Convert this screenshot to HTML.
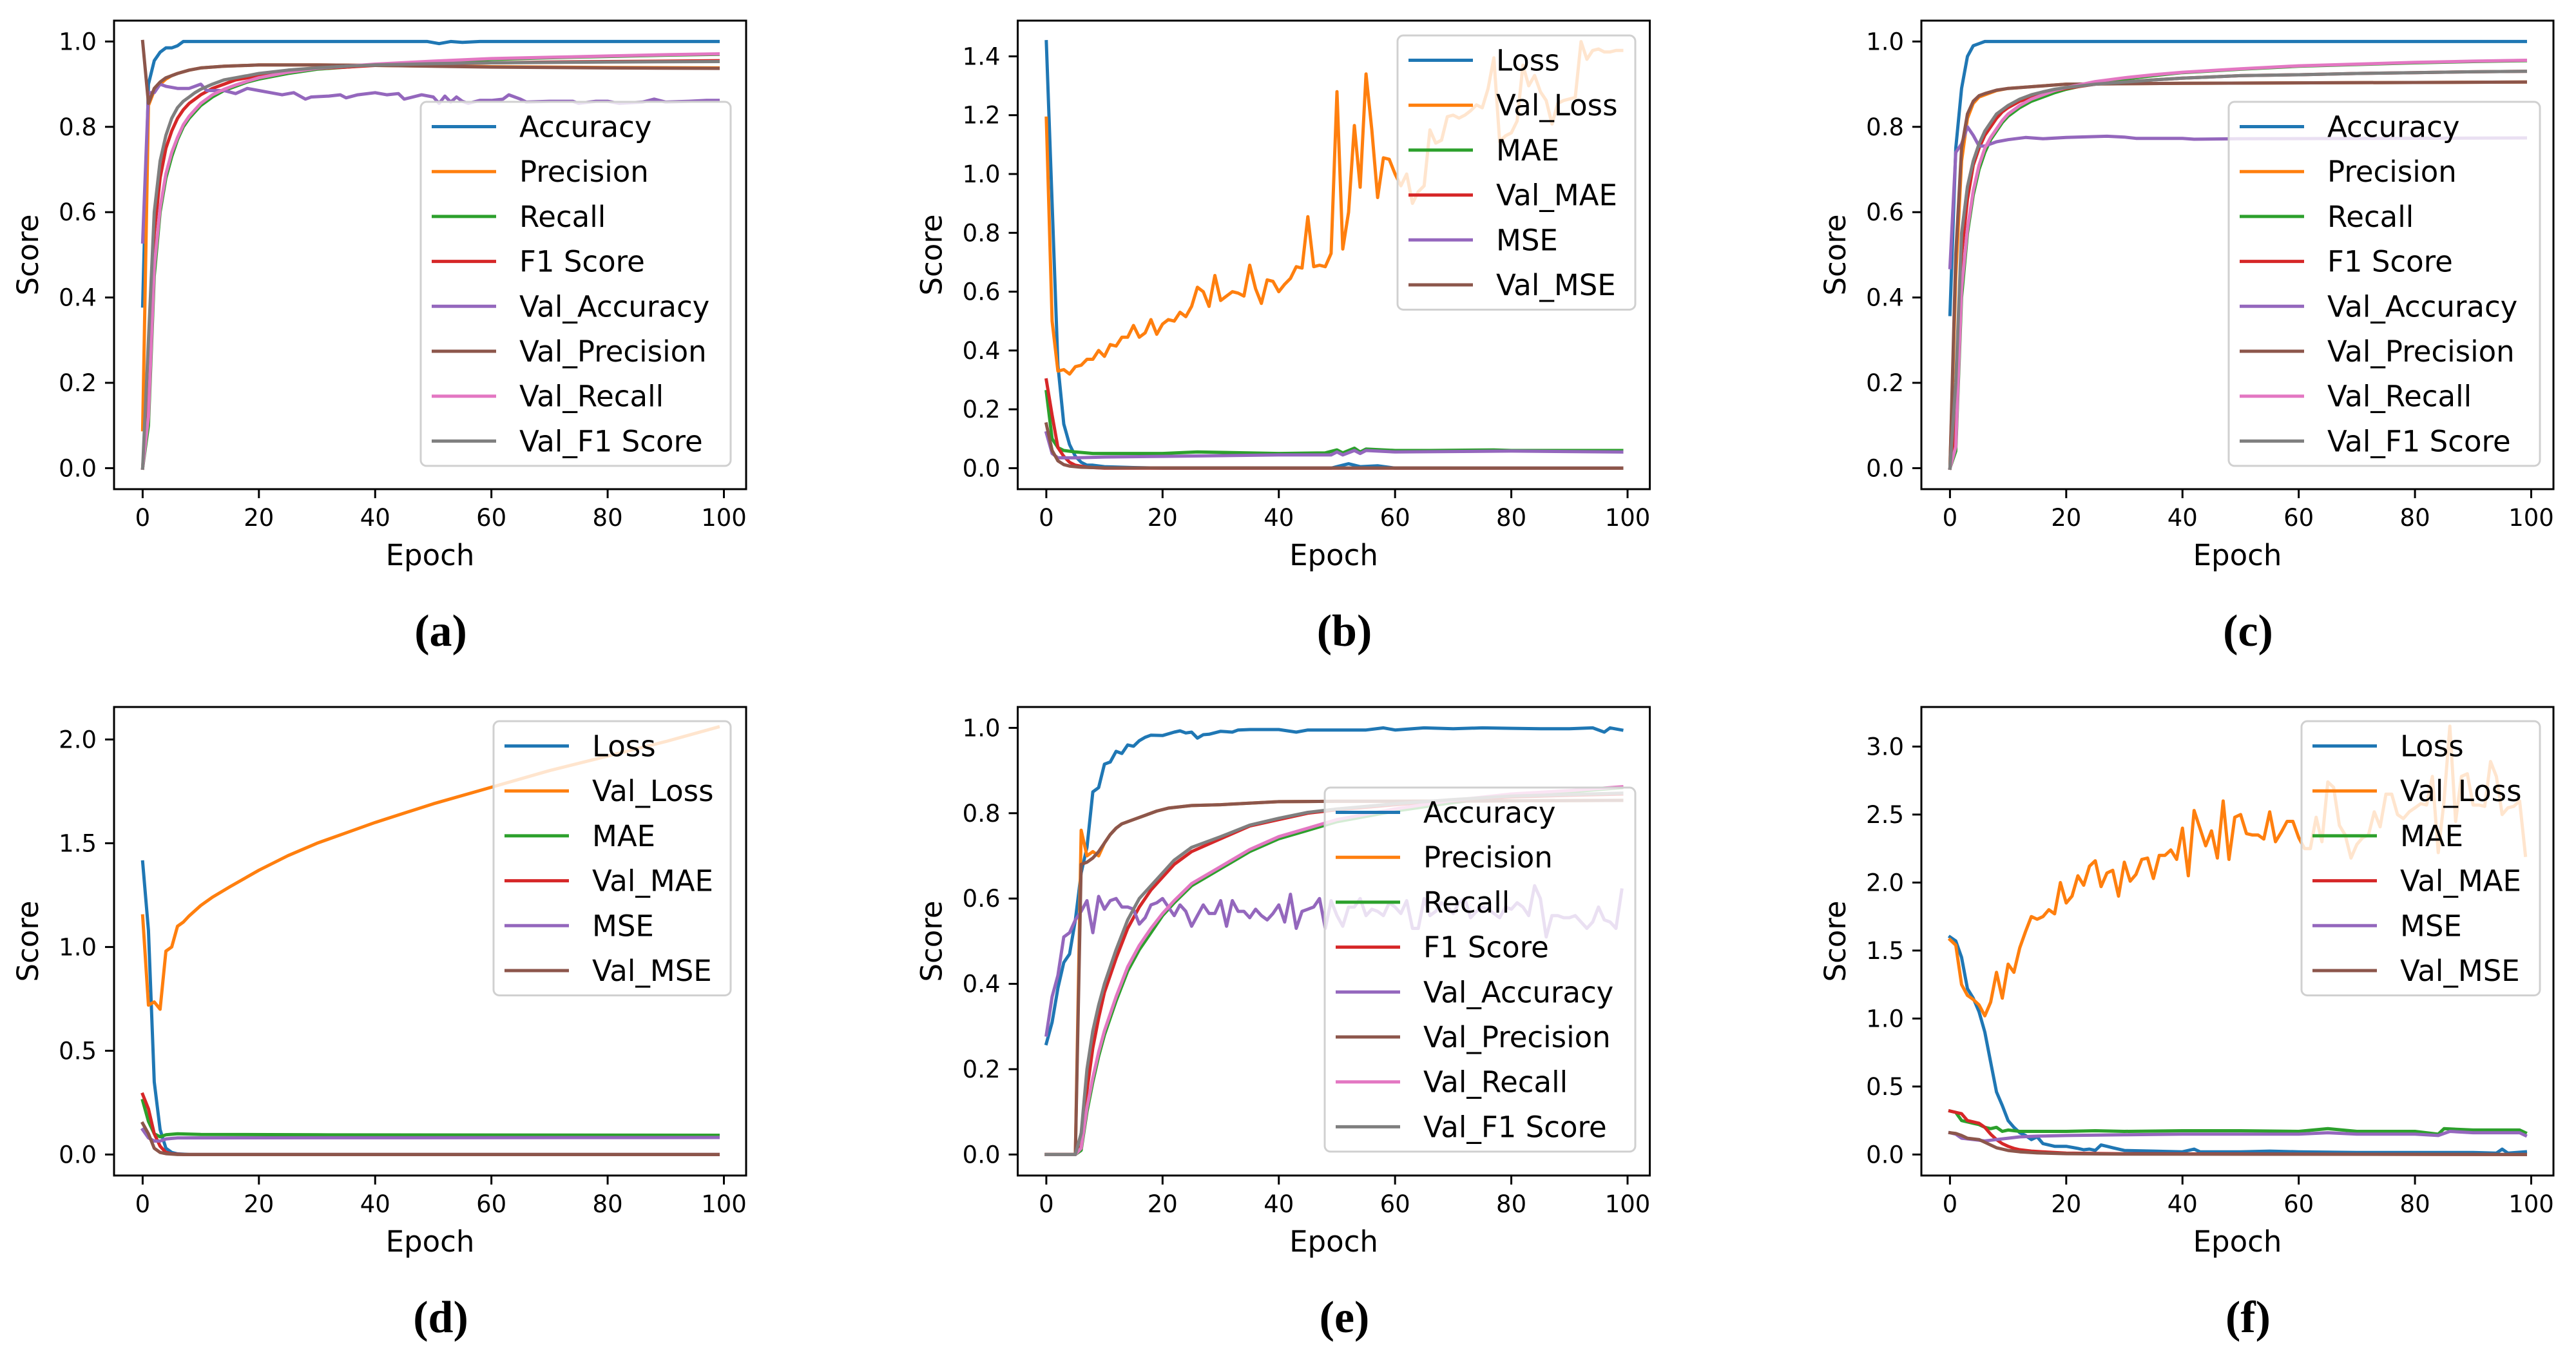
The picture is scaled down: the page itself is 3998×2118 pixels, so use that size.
<!DOCTYPE html>
<html><head><meta charset="utf-8"><style>
html,body{margin:0;padding:0;background:#fff;}
svg{display:block;}
text{font-family:"DejaVu Sans","Liberation Sans",sans-serif;fill:#000;}
.cap{font-family:"Liberation Serif","DejaVu Serif",serif;font-weight:bold;}
</style></head><body>
<svg id="fig" width="3998" height="2118" viewBox="0 0 3998 2118" xmlns="http://www.w3.org/2000/svg"></svg>
<script>
// ---------- data (epoch, value) ----------
const xTicks = [0,20,40,60,80,100];
const tickScore = [0,0.2,0.4,0.6,0.8,1.0];
const tickB = [0,0.2,0.4,0.6,0.8,1.0,1.2,1.4];
const tickD = [0,0.5,1.0,1.5,2.0];
const tickF = [0,0.5,1.0,1.5,2.0,2.5,3.0];
const namesMetric = ["Accuracy","Precision","Recall","F1 Score","Val_Accuracy","Val_Precision","Val_Recall","Val_F1 Score"];
const namesLoss = ["Loss","Val_Loss","MAE","Val_MAE","MSE","Val_MSE"];

// panel a
const aAcc = [[0,0.38],[1,0.9],[2,0.955],[3,0.975],[4,0.985],[5,0.985],[6,0.99],[7,1.0],[20,1.0],[49,1.0],[51,0.995],[53,1.0],[55,0.998],[58,1.0],[99,1.0]];
const aPrec = [[0,0.09],[1,0.85],[2,0.885],[3,0.9],[4,0.912],[5,0.92],[6,0.925],[8,0.933],[10,0.938],[14,0.942],[20,0.945],[30,0.945],[40,0.944],[60,0.941],[80,0.939],[99,0.938]];
const aRec = [[0,0],[1,0.1],[2,0.45],[3,0.6],[4,0.68],[5,0.73],[6,0.77],[7,0.8],[8,0.82],[9,0.835],[10,0.85],[12,0.87],[14,0.885],[16,0.895],[18,0.905],[20,0.912],[25,0.925],[30,0.935],[35,0.94],[40,0.945],[50,0.952],[60,0.958],[70,0.962],[80,0.965],[90,0.968],[99,0.97]];
const aF1 = [[0,0],[1,0.2],[2,0.55],[3,0.68],[4,0.75],[5,0.79],[6,0.82],[7,0.84],[8,0.855],[9,0.865],[10,0.875],[12,0.89],[14,0.9],[16,0.91],[18,0.915],[20,0.92],[25,0.93],[30,0.937],[35,0.94],[40,0.944],[50,0.947],[60,0.95],[70,0.952],[80,0.953],[90,0.954],[99,0.955]];
const aVAcc = [[0,0.53],[1,0.88],[2,0.88],[3,0.9],[4,0.895],[6,0.89],[8,0.89],[10,0.9],[11,0.885],[14,0.885],[16,0.878],[18,0.89],[20,0.885],[22,0.88],[24,0.875],[26,0.88],[28,0.865],[29,0.87],[32,0.872],[34,0.875],[35,0.868],[37,0.875],[40,0.88],[42,0.875],[44,0.878],[45,0.865],[48,0.875],[50,0.87],[51,0.855],[52,0.872],[53,0.858],[54,0.87],[55,0.86],[56,0.855],[58,0.862],[60,0.862],[62,0.865],[63,0.875],[65,0.865],[66,0.858],[70,0.86],[74,0.86],[75,0.855],[78,0.86],[80,0.86],[82,0.855],[86,0.858],[88,0.865],[90,0.858],[94,0.86],[97,0.862],[99,0.862]];
const aVPrec = [[0,1.0],[1,0.855],[2,0.89],[3,0.905],[4,0.915],[5,0.92],[6,0.925],[8,0.933],[10,0.938],[14,0.942],[20,0.945],[30,0.945],[40,0.944],[60,0.94],[80,0.938],[99,0.937]];
const aVRec = [[0,0],[1,0.12],[2,0.47],[3,0.61],[4,0.69],[5,0.74],[6,0.775],[7,0.805],[8,0.825],[9,0.84],[10,0.855],[12,0.875],[14,0.888],[16,0.898],[18,0.907],[20,0.915],[25,0.928],[30,0.937],[35,0.942],[40,0.947],[50,0.954],[60,0.96],[70,0.963],[80,0.966],[90,0.969],[99,0.971]];
const aVF1 = [[0,0],[1,0.3],[2,0.6],[3,0.72],[4,0.78],[5,0.82],[6,0.845],[7,0.86],[8,0.87],[9,0.88],[10,0.888],[12,0.9],[14,0.91],[16,0.915],[18,0.92],[20,0.925],[25,0.933],[30,0.938],[35,0.942],[40,0.945],[50,0.948],[60,0.95],[80,0.952],[99,0.953]];

// panel b
const bLoss = [[0,1.45],[1,0.9],[2,0.35],[3,0.15],[4,0.08],[5,0.04],[6,0.02],[7,0.01],[8,0.01],[10,0.005],[15,0.002],[20,0],[49,0],[50,0.005],[52,0.015],[54,0.005],[57,0.008],[60,0],[99,0]];
const bVLoss = [[0,1.19],[1,0.5],[2,0.33],[3,0.335],[4,0.32],[5,0.345],[6,0.35],[7,0.37],[8,0.37],[9,0.4],[10,0.38],[11,0.42],[12,0.415],[13,0.445],[14,0.445],[15,0.485],[16,0.445],[17,0.46],[18,0.505],[19,0.455],[20,0.49],[21,0.505],[22,0.5],[23,0.53],[24,0.515],[25,0.55],[26,0.615],[27,0.6],[28,0.55],[29,0.655],[30,0.57],[31,0.585],[32,0.6],[33,0.595],[34,0.585],[35,0.69],[36,0.61],[37,0.56],[38,0.64],[39,0.635],[40,0.6],[41,0.625],[42,0.645],[43,0.685],[44,0.68],[45,0.855],[46,0.685],[47,0.69],[48,0.685],[49,0.73],[50,1.28],[51,0.745],[52,0.87],[53,1.165],[54,0.955],[55,1.34],[56,1.15],[57,0.92],[58,1.055],[59,1.05],[60,1.0],[61,0.96],[62,1.0],[63,0.9],[64,0.94],[65,0.96],[66,1.15],[67,1.105],[68,1.115],[69,1.195],[70,1.2],[71,1.19],[72,1.2],[73,1.215],[74,1.235],[75,1.225],[76,1.29],[77,1.395],[78,1.11],[79,1.13],[80,1.14],[81,1.18],[82,1.37],[83,1.3],[84,1.335],[85,1.28],[86,1.25],[87,1.17],[88,1.24],[89,1.25],[90,1.255],[91,1.26],[92,1.45],[93,1.39],[94,1.42],[95,1.425],[96,1.415],[97,1.415],[98,1.42],[99,1.42]];
const bMAE = [[0,0.26],[1,0.1],[2,0.07],[3,0.06],[5,0.055],[8,0.05],[20,0.05],[26,0.055],[40,0.05],[48,0.052],[50,0.062],[51,0.052],[53,0.068],[54,0.055],[55,0.065],[60,0.06],[66,0.06],[77,0.062],[80,0.06],[99,0.06]];
const bVMAE = [[0,0.3],[1,0.18],[2,0.07],[3,0.04],[4,0.02],[5,0.01],[7,0.003],[10,0],[99,0]];
const bMSE = [[0,0.12],[1,0.05],[2,0.035],[5,0.035],[10,0.038],[20,0.04],[40,0.045],[49,0.045],[50,0.055],[51,0.045],[53,0.06],[54,0.05],[55,0.06],[60,0.055],[80,0.058],[99,0.055]];
const bVMSE = [[0,0.15],[1,0.06],[2,0.025],[3,0.012],[4,0.007],[6,0.003],[10,0.001],[99,0]];

// panel c
const cAcc = [[0,0.36],[1,0.75],[2,0.89],[3,0.965],[4,0.99],[5,0.995],[6,1.0],[99,1.0]];
const cPrec = [[0,0],[1,0.45],[2,0.72],[3,0.82],[4,0.855],[5,0.87],[6,0.875],[8,0.885],[10,0.89],[15,0.895],[20,0.9],[40,0.902],[99,0.905]];
const cRec = [[0,0],[1,0.04],[2,0.4],[3,0.55],[4,0.64],[5,0.7],[6,0.74],[7,0.77],[8,0.79],[9,0.81],[10,0.825],[12,0.845],[14,0.86],[16,0.87],[18,0.88],[20,0.888],[25,0.903],[30,0.912],[35,0.92],[40,0.927],[50,0.935],[60,0.942],[70,0.946],[80,0.95],[90,0.953],[99,0.955]];
const cF1 = [[0,0],[1,0.1],[2,0.5],[3,0.63],[4,0.71],[5,0.75],[6,0.78],[7,0.8],[8,0.82],[9,0.835],[10,0.845],[12,0.86],[14,0.87],[16,0.878],[18,0.885],[20,0.89],[25,0.9],[30,0.905],[35,0.91],[40,0.914],[50,0.92],[60,0.922],[70,0.925],[80,0.927],[90,0.929],[99,0.93]];
const cVAcc = [[0,0.47],[1,0.74],[2,0.76],[3,0.8],[4,0.78],[5,0.755],[6,0.755],[7,0.76],[8,0.765],[10,0.77],[13,0.775],[16,0.772],[20,0.775],[27,0.778],[30,0.776],[32,0.773],[40,0.773],[42,0.771],[50,0.772],[99,0.774]];
const cVPrec = [[0,0],[1,0.5],[2,0.75],[3,0.83],[4,0.86],[5,0.873],[6,0.878],[8,0.886],[10,0.89],[15,0.895],[20,0.9],[40,0.902],[99,0.905]];
const cVRec = [[0,0],[1,0.05],[2,0.42],[3,0.56],[4,0.65],[5,0.71],[6,0.75],[7,0.775],[8,0.795],[9,0.815],[10,0.83],[12,0.85],[14,0.865],[16,0.875],[18,0.885],[20,0.892],[25,0.906],[30,0.915],[35,0.922],[40,0.928],[50,0.936],[60,0.943],[70,0.947],[80,0.951],[90,0.954],[99,0.956]];
const cVF1 = [[0,0],[1,0.2],[2,0.55],[3,0.66],[4,0.72],[5,0.76],[6,0.79],[7,0.81],[8,0.83],[9,0.84],[10,0.85],[12,0.865],[14,0.875],[16,0.882],[18,0.888],[20,0.892],[25,0.9],[30,0.905],[35,0.91],[40,0.914],[50,0.92],[60,0.922],[70,0.925],[80,0.927],[90,0.929],[99,0.93]];

// panel d
const dLoss = [[0,1.41],[1,1.08],[2,0.35],[3,0.12],[4,0.03],[5,0.01],[6,0.003],[8,0],[99,0]];
const dVLoss = [[0,1.15],[1,0.72],[2,0.735],[3,0.7],[4,0.98],[5,1.0],[6,1.1],[7,1.12],[8,1.15],[10,1.2],[12,1.24],[15,1.29],[20,1.37],[25,1.44],[30,1.5],[35,1.55],[40,1.6],[50,1.69],[60,1.77],[70,1.85],[80,1.92],[90,1.99],[99,2.06]];
const dMAE = [[0,0.26],[1,0.16],[2,0.1],[3,0.085],[4,0.095],[6,0.1],[10,0.097],[30,0.095],[99,0.093]];
const dVMAE = [[0,0.29],[1,0.22],[2,0.1],[3,0.04],[4,0.01],[5,0.003],[7,0],[99,0]];
const dMSE = [[0,0.12],[1,0.08],[2,0.065],[3,0.065],[4,0.075],[6,0.08],[99,0.082]];
const dVMSE = [[0,0.15],[1,0.1],[2,0.03],[3,0.01],[4,0.004],[6,0],[99,0]];

// panel e
const eAcc = [[0,0.26],[1,0.31],[2,0.39],[3,0.45],[4,0.47],[5,0.55],[6,0.66],[7,0.72],[8,0.85],[9,0.86],[10,0.915],[11,0.92],[12,0.945],[13,0.94],[14,0.96],[15,0.957],[16,0.97],[17,0.978],[18,0.983],[20,0.982],[22,0.99],[23,0.993],[24,0.988],[25,0.99],[26,0.976],[27,0.984],[28,0.985],[30,0.992],[32,0.99],[33,0.995],[35,0.996],[40,0.996],[43,0.99],[45,0.995],[50,0.995],[55,0.995],[58,1.0],[60,0.995],[65,1.0],[70,0.998],[75,1.0],[80,0.999],[85,0.998],[90,0.998],[94,1.0],[96,0.99],[97,1.0],[99,0.995]];
const ePrec = [[0,0],[5,0],[6,0.76],[7,0.7],[8,0.71],[9,0.7],[10,0.73],[11,0.75],[12,0.765],[13,0.775],[15,0.785],[17,0.795],[19,0.805],[21,0.812],[23,0.815],[25,0.818],[30,0.82],[40,0.827],[50,0.828],[60,0.828],[99,0.83]];
const eRec = [[0,0],[5,0],[6,0.01],[7,0.1],[8,0.17],[9,0.23],[10,0.28],[12,0.36],[14,0.43],[16,0.48],[18,0.52],[20,0.56],[22,0.59],[25,0.63],[30,0.67],[35,0.71],[40,0.74],[45,0.76],[50,0.78],[60,0.805],[70,0.825],[80,0.84],[90,0.85],[99,0.86]];
const eF1 = [[0,0],[5,0],[6,0.02],[7,0.15],[8,0.25],[9,0.32],[10,0.38],[12,0.46],[14,0.53],[16,0.58],[18,0.62],[20,0.65],[22,0.68],[25,0.71],[30,0.74],[35,0.77],[40,0.785],[45,0.8],[50,0.808],[60,0.82],[70,0.83],[80,0.838],[90,0.842],[99,0.845]];
const eVAcc = [[0,0.28],[1,0.37],[2,0.42],[3,0.51],[4,0.52],[5,0.55],[6,0.57],[7,0.595],[8,0.52],[9,0.605],[10,0.575],[11,0.595],[12,0.6],[13,0.58],[14,0.58],[15,0.575],[16,0.54],[17,0.555],[18,0.585],[19,0.59],[20,0.6],[21,0.58],[22,0.56],[23,0.585],[24,0.57],[25,0.535],[26,0.56],[27,0.585],[28,0.565],[29,0.565],[30,0.595],[31,0.535],[32,0.595],[33,0.57],[34,0.57],[35,0.555],[36,0.575],[37,0.56],[38,0.55],[39,0.565],[40,0.585],[41,0.545],[42,0.61],[43,0.53],[44,0.57],[45,0.575],[46,0.58],[47,0.6],[48,0.53],[49,0.595],[50,0.56],[51,0.535],[52,0.58],[53,0.58],[54,0.6],[55,0.56],[56,0.575],[57,0.57],[58,0.56],[59,0.59],[60,0.58],[61,0.565],[62,0.595],[63,0.53],[64,0.53],[65,0.6],[66,0.56],[67,0.57],[68,0.59],[69,0.58],[70,0.565],[71,0.59],[72,0.6],[73,0.555],[74,0.57],[75,0.58],[76,0.575],[77,0.565],[78,0.555],[79,0.58],[80,0.575],[81,0.59],[82,0.58],[83,0.56],[84,0.63],[85,0.6],[86,0.51],[87,0.56],[88,0.56],[89,0.555],[90,0.555],[91,0.56],[92,0.545],[93,0.53],[94,0.545],[95,0.58],[96,0.55],[97,0.545],[98,0.53],[99,0.62]];
const eVPrec = [[0,0],[5,0],[6,0.68],[7,0.685],[8,0.695],[9,0.71],[10,0.73],[11,0.75],[12,0.765],[13,0.775],[15,0.785],[17,0.795],[19,0.805],[21,0.812],[23,0.815],[25,0.818],[30,0.82],[40,0.827],[50,0.828],[60,0.828],[99,0.83]];
const eVRec = [[0,0],[5,0],[6,0.015],[7,0.11],[8,0.18],[9,0.24],[10,0.29],[12,0.37],[14,0.44],[16,0.49],[18,0.53],[20,0.565],[22,0.595],[25,0.635],[30,0.675],[35,0.715],[40,0.745],[45,0.765],[50,0.785],[60,0.81],[70,0.83],[80,0.845],[90,0.853],[99,0.862]];
const eVF1 = [[0,0],[5,0],[6,0.05],[7,0.2],[8,0.29],[9,0.35],[10,0.4],[12,0.48],[14,0.55],[16,0.6],[18,0.63],[20,0.66],[22,0.69],[25,0.72],[30,0.745],[35,0.772],[40,0.788],[45,0.802],[50,0.81],[60,0.822],[70,0.832],[80,0.84],[90,0.844],[99,0.847]];

// panel f
const fLoss = [[0,1.6],[1,1.57],[2,1.45],[3,1.22],[4,1.15],[5,1.05],[6,0.9],[7,0.68],[8,0.46],[9,0.36],[10,0.25],[11,0.2],[12,0.16],[13,0.14],[14,0.11],[15,0.13],[16,0.08],[17,0.07],[18,0.06],[20,0.06],[22,0.045],[23,0.035],[24,0.04],[25,0.03],[26,0.07],[27,0.06],[28,0.05],[30,0.03],[35,0.025],[40,0.02],[42,0.04],[43,0.02],[50,0.02],[55,0.025],[60,0.02],[70,0.015],[80,0.015],[90,0.015],[94,0.01],[95,0.04],[96,0.01],[99,0.02]];
const fVLoss = [[0,1.58],[1,1.54],[2,1.25],[3,1.17],[4,1.14],[5,1.1],[6,1.02],[7,1.12],[8,1.34],[9,1.15],[10,1.4],[11,1.34],[12,1.52],[13,1.64],[14,1.75],[15,1.73],[16,1.75],[17,1.8],[18,1.77],[19,2.0],[20,1.85],[21,1.9],[22,2.05],[23,1.98],[24,2.12],[25,2.16],[26,1.97],[27,2.07],[28,2.09],[29,1.9],[30,2.15],[31,2.01],[32,2.06],[33,2.17],[34,2.18],[35,2.03],[36,2.2],[37,2.2],[38,2.24],[39,2.17],[40,2.4],[41,2.05],[42,2.53],[43,2.4],[44,2.27],[45,2.38],[46,2.18],[47,2.6],[48,2.17],[49,2.48],[50,2.5],[51,2.36],[52,2.35],[53,2.35],[54,2.32],[55,2.52],[56,2.3],[57,2.37],[58,2.45],[59,2.45],[60,2.33],[61,2.25],[62,2.25],[63,2.48],[64,2.3],[65,2.74],[66,2.7],[67,2.42],[68,2.35],[69,2.18],[70,2.28],[71,2.33],[72,2.35],[73,2.52],[74,2.41],[75,2.65],[76,2.65],[77,2.5],[78,2.47],[79,2.52],[80,2.55],[81,2.58],[82,2.57],[83,2.78],[84,2.22],[85,2.6],[86,3.15],[87,2.45],[88,2.78],[89,2.8],[90,2.57],[91,2.57],[92,2.56],[93,2.89],[94,2.78],[95,2.5],[96,2.55],[97,2.56],[98,2.6],[99,2.2]];
const fMAE = [[0,0.32],[1,0.31],[2,0.25],[3,0.24],[4,0.23],[5,0.22],[6,0.2],[7,0.19],[8,0.2],[9,0.17],[10,0.18],[12,0.17],[15,0.17],[20,0.17],[25,0.175],[30,0.17],[40,0.175],[50,0.175],[60,0.17],[65,0.19],[70,0.17],[80,0.17],[84,0.15],[85,0.19],[90,0.18],[98,0.18],[99,0.16]];
const fVMAE = [[0,0.32],[1,0.31],[2,0.3],[3,0.25],[4,0.24],[5,0.23],[6,0.2],[7,0.15],[8,0.11],[9,0.08],[10,0.06],[11,0.045],[12,0.035],[14,0.025],[16,0.02],[20,0.01],[30,0.005],[99,0]];
const fMSE = [[0,0.16],[1,0.15],[2,0.12],[4,0.11],[6,0.1],[8,0.11],[10,0.12],[12,0.13],[15,0.135],[20,0.14],[30,0.145],[40,0.15],[50,0.15],[60,0.15],[65,0.16],[70,0.15],[80,0.15],[84,0.14],[86,0.17],[90,0.16],[98,0.16],[99,0.14]];
const fVMSE = [[0,0.16],[1,0.155],[2,0.14],[3,0.12],[5,0.11],[6,0.09],[7,0.07],[8,0.05],[9,0.04],[10,0.03],[12,0.02],[15,0.012],[20,0.006],[30,0.003],[99,0]];

const colors = ["#1f77b4","#ff7f0e","#2ca02c","#d62728","#9467bd","#8c564b","#e377c2","#7f7f7f"];

const NS = "http://www.w3.org/2000/svg";
const svg = document.getElementById("fig");
function mk(tag, attrs, parent){
  const el = document.createElementNS(NS, tag);
  for (const k in attrs) el.setAttribute(k, attrs[k]);
  (parent||svg).appendChild(el);
  return el;
}

const panels = [
  {id:"a", left:177, top:32, yticks:tickScore, unit:662, dec:1, names:namesMetric, series:[aAcc,aPrec,aRec,aF1,aVAcc,aVPrec,aVRec,aVF1], leg:{x:653,y:158,w:481}},
  {id:"b", left:1579.5, top:32, yticks:tickB, unit:456.4, dec:1, names:namesLoss, series:[bLoss,bVLoss,bMAE,bVMAE,bMSE,bVMSE], leg:{x:2169,y:55,w:369}},
  {id:"c", left:2982, top:32, yticks:tickScore, unit:662, dec:1, names:namesMetric, series:[cAcc,cPrec,cRec,cF1,cVAcc,cVPrec,cVRec,cVF1], leg:{x:3459,y:158,w:483}},
  {id:"d", left:177, top:1097, yticks:tickD, unit:322, dec:1, names:namesLoss, series:[dLoss,dVLoss,dMAE,dVMAE,dMSE,dVMSE], leg:{x:766,y:1119,w:368}},
  {id:"e", left:1579.5, top:1097, yticks:tickScore, unit:662, dec:1, names:namesMetric, series:[eAcc,ePrec,eRec,eF1,eVAcc,eVPrec,eVRec,eVF1], leg:{x:2056,y:1222,w:482}},
  {id:"f", left:2982, top:1097, yticks:tickF, unit:211, dec:1, names:namesLoss, series:[fLoss,fVLoss,fMAE,fVMAE,fMSE,fVMSE], leg:{x:3572,y:1119,w:370}}
];
const W = 981, H = 727;

panels.forEach(p => {
  const g = mk("g", {});
  
  
  const xs = v => p.left + 44.4 + v * 9.021;
  const ys = v => p.top + 694.4 - v * p.unit;

  p.series.forEach((s, i) => {
    const d = s.map((pt, k) => (k ? "L" : "M") + xs(pt[0]).toFixed(1) + " " + ys(pt[1]).toFixed(1)).join(" ");
    const path = mk("path", {d:d, fill:"none", stroke:colors[i], "stroke-width":5, "stroke-linejoin":"round", "stroke-linecap":"square"}, g);
    
    
  });

  const frame = mk("rect", {x:p.left, y:p.top, width:W, height:H, fill:"none", stroke:"#000", "stroke-width":3}, g);
  
  

  xTicks.forEach(t => {
    const x = xs(t);
    mk("line", {x1:x, y1:p.top+H, x2:x, y2:p.top+H+14, stroke:"#000", "stroke-width":3}, g);
    const tx = mk("text", {x:x, y:p.top+H+57, "font-size":37, "text-anchor":"middle"}, g);
    tx.textContent = String(t);
    
    
  });
  p.yticks.forEach(t => {
    const y = ys(t);
    mk("line", {x1:p.left-14, y1:y, x2:p.left, y2:y, stroke:"#000", "stroke-width":3}, g);
    const tx = mk("text", {x:p.left-27, y:y+13, "font-size":37, "text-anchor":"end"}, g);
    tx.textContent = t.toFixed(p.dec);
    
    
  });

  const xl = mk("text", {x:p.left+W/2, y:p.top+H+118, "font-size":45, "text-anchor":"middle"}, g);
  xl.textContent = "Epoch";
  
  
  const yx = p.left - 118, yy = p.top + H/2;
  const yl = mk("text", {x:yx, y:yy, "font-size":45, "text-anchor":"middle", transform:"rotate(-90 "+yx+" "+yy+")"}, g);
  yl.textContent = "Score";
  
  

  const cap = mk("text", {x:p.left+507, y:p.top+H+243, "font-size":70, "text-anchor":"middle", "class":"cap"}, g);
  cap.textContent = "(" + p.id + ")";
  
  

  const n = p.names.length;
  const lg = mk("g", {}, g);
  
  
  const lh = 38.5*2 + (n-1)*69.7;
  mk("rect", {x:p.leg.x, y:p.leg.y, width:p.leg.w, height:lh, rx:9, fill:"#fff", "fill-opacity":0.8, stroke:"#d0d0d0", "stroke-width":3}, lg);
  p.names.forEach((nm, i) => {
    const cy = p.leg.y + 38.5 + i*69.7;
    const e = mk("g", {}, lg);
    
    
    mk("line", {x1:p.leg.x+17, y1:cy, x2:p.leg.x+117, y2:cy, stroke:colors[i], "stroke-width":5}, e);
    const t = mk("text", {x:p.leg.x+153, y:cy+16, "font-size":45}, e);
    t.textContent = nm;
  });
});
</script>
</body></html>
